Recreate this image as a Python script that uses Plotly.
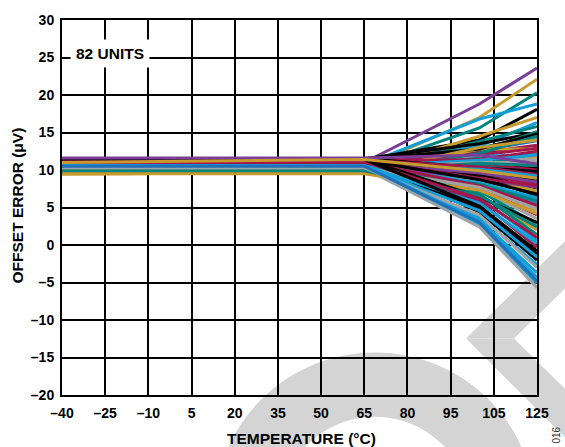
import plotly.graph_objects as go

# ---------------- data ----------------
temps = [-40, 25, 65, 105, 125]

off_m40 = [10.8, 10.0, 10.2, 10.6, 11.4, 9.6, 10.5, 9.9, 11.5, 9.8,
           10.4, 10.3, 11.3, 9.5, 11.0, 10.4, 9.6, 10.2, 10.0, 10.3,
           11.4, 11.1, 9.9, 9.5, 11.2, 11.5, 10.5, 10.7, 11.0, 11.3,
           9.6, 10.8, 11.4, 10.4, 10.3, 10.2, 10.6, 9.5, 11.1, 10.2,
           9.9, 9.6, 10.0, 10.5, 11.0, 11.4, 11.3, 10.4, 10.6, 10.5,
           10.2, 11.4, 9.8, 9.5, 11.2, 10.5, 10.3, 9.9, 11.5, 11.3,
           10.6, 11.4, 10.9, 11.2, 9.6, 11.3, 10.4, 10.0, 11.0, 10.2,
           9.5, 11.4, 9.9, 11.1, 10.5, 11.5, 10.4, 10.3, 10.6, 10.5,
           11.6, 11.0]

off_25 = [10.9, 10.1, 10.2, 10.6, 11.4, 9.7, 10.5, 9.9, 11.5, 9.8,
          10.4, 10.3, 11.3, 9.5, 11.0, 10.4, 9.7, 10.2, 10.0, 10.3,
          11.4, 11.1, 9.9, 9.5, 11.2, 11.4, 10.5, 10.7, 11.0, 11.3,
          9.6, 10.8, 11.4, 10.4, 10.3, 10.2, 10.6, 9.5, 11.1, 10.2,
          9.9, 9.6, 10.0, 10.5, 11.0, 11.4, 11.3, 10.4, 10.6, 10.5,
          10.2, 11.4, 9.8, 9.6, 11.2, 10.5, 10.3, 9.9, 11.5, 11.3,
          10.6, 11.4, 10.9, 11.2, 9.6, 11.3, 10.4, 10.0, 11.0, 10.2,
          9.5, 11.4, 9.9, 11.1, 10.5, 11.5, 10.4, 10.3, 10.6, 10.5,
          11.6, 11.2]

off_65 = [11.0, 10.3, 10.3, 10.7, 11.4, 9.9, 10.5, 10.0, 11.5, 9.9,
          10.4, 10.3, 11.3, 9.6, 11.0, 10.4, 9.8, 10.2, 10.0, 10.3,
          11.4, 11.1, 9.9, 9.6, 11.2, 11.4, 10.5, 10.7, 11.0, 11.3,
          9.7, 10.8, 11.4, 10.4, 10.3, 10.2, 10.6, 9.6, 11.1, 10.2,
          9.9, 9.6, 10.0, 10.5, 11.0, 11.3, 11.2, 10.4, 10.6, 10.5,
          10.2, 11.4, 9.8, 9.6, 11.2, 10.5, 10.3, 9.9, 11.5, 11.3,
          10.6, 11.4, 10.9, 11.2, 9.6, 11.3, 10.4, 10.0, 11.0, 10.2,
          9.5, 11.4, 9.9, 11.1, 10.5, 11.4, 10.4, 10.3, 10.6, 10.5,
          11.6, 11.4]

off_105 = [18.8, 17.0, 15.6, 16.8, 14.0, 14.5, 13.2, 13.8, 13.5, 12.5,
           13.0, 12.6, 12.3, 12.8, 12.0, 11.8, 11.5, 11.8, 11.6, 11.2,
           10.6, 10.8, 10.5, 10.2, 10.0, 9.6, 9.8, 8.6, 9.4, 9.2,
           9.0, 8.8, 9.0, 8.4, 8.0, 8.2, 7.8, 7.0, 7.6, 7.4,
           7.2, 6.6, 6.8, 6.3, 5.9, 4.8, 4.4, 3.8, 3.4, 2.8,
           2.4, 12.8, 12.2, 13.0, 11.4, 11.3, 11.0, 10.9, 10.3, 10.4,
           10.1, 9.4, 9.6, 8.9, 8.5, 8.7, 8.3, 8.1, 7.9, 7.7,
           7.3, 6.4, 6.6, 6.2, 5.6, 5.2, 4.6, 4.0, 3.2, 3.0,
           12.0, 9.9]

off_125 = [23.6, 22.1, 20.3, 18.8, 18.1, 17.0, 16.3, 15.8, 15.0, 15.1,
           14.3, 13.9, 13.3, 12.8, 12.9, 12.1, 11.7, 11.3, 10.9, 10.4,
           10.2, 10.0, 9.6, 9.3, 9.0, 8.5, 8.7, 8.0, 8.2, 7.6,
           7.2, 7.7, 6.6, 6.1, 5.6, 5.1, 5.4, 4.6, 4.0, 3.5,
           2.8, 2.0, 1.4, 0.6, -0.3, -1.2, -2.0, -2.6, -3.7, -5.1,
           -5.7, 14.8, 14.5, 14.0, 12.5, 12.0, 11.0, 10.6, 9.8, 9.4,
           9.2, 8.8, 8.4, 7.9, 7.0, 6.8, 6.3, 5.9, 5.3, 4.8,
           4.2, 3.0, 2.4, 1.0, 0.2, -0.8, -1.6, -3.0, -4.3, -4.8,
           10.8, 8.9]

x_tick_vals = [-40, -25, -10, 5, 20, 35, 50, 65, 80, 95, 110, 125]
x_tick_text = ["–40", "–25", "–10", "5", "20", "35", "50", "65", "80", "95", "105", "125"]
y_tick_vals = [-20, -15, -10, -5, 0, 5, 10, 15, 20, 25, 30]
y_tick_text = ["–20", "–15", "–10", "–5", "0", "5", "10", "15", "20", "25", "30"]

# ---------------- style ----------------
palette = {
    "P": "#7B3F98", "G": "#C99B2E", "T": "#00847E", "B": "#119FDA",
    "D": "#1F70B8", "K": "#000000", "C": "#A3174C", "Y": "#A3A3A3",
}
unit_colors = list(
    "PGTBKGBTKTBDCGCBGYTYKCTGCKBPCKGPKBDYBGCYTGTBCKKBBBY"
    "KTGCBYTKCBKPCGKBTCYGKTCBKBYBDPG"
)

FONT = "Liberation Sans, Arial, Helvetica, sans-serif"
W, H = 565, 447
L, R, T, B = 62, 28, 16, 52
pw, ph = W - L - R, H - T - B


def px(x):
    return (x - L) / pw


def py(y):
    return (H - B - y) / ph


fig = go.Figure()

n_units = len(off_125)
for i in range(n_units):
    fig.add_trace(go.Scatter(
        x=temps,
        y=[off_m40[i], off_25[i], off_65[i], off_105[i], off_125[i]],
        mode="lines",
        line=dict(color=palette[unit_colors[i]], width=3),
        showlegend=False,
        hoverinfo="skip",
    ))

# watermark (light grey decorative shapes behind the grid)
wm = "#D4D4D4"


def ring_path(cx, cy, r_out, r_in, n=60):
    import math
    pts_o = []
    pts_i = []
    for k in range(n + 1):
        a = math.pi * k / n
        pts_o.append((cx - r_out * math.cos(a), cy - r_out * math.sin(a)))
        pts_i.append((cx - r_in * math.cos(a), cy - r_in * math.sin(a)))
    pts = pts_o + pts_i[::-1]
    return "M " + " L ".join(f"{px(x):.4f},{py(y):.4f}" for x, y in pts) + " Z"


def poly_path(pts):
    return "M " + " L ".join(f"{px(x):.4f},{py(y):.4f}" for x, y in pts) + " Z"


shapes = [
    dict(type="path", xref="paper", yref="paper", layer="below",
         path=ring_path(375, 512, 160, 95), fillcolor=wm, line=dict(width=0)),
    dict(type="path", xref="paper", yref="paper", layer="below",
         path=poly_path([(466, 338), (640, 165), (640, 213), (514, 338)]),
         fillcolor=wm, line=dict(width=0)),
    dict(type="path", xref="paper", yref="paper", layer="below",
         path=poly_path([(466, 338), (514, 338), (640, 463), (640, 513)]),
         fillcolor=wm, line=dict(width=0)),
]

axis_common = dict(
    showgrid=True, gridcolor="#000000", gridwidth=1.5,
    showline=True, linecolor="#000000", linewidth=2, mirror=True,
    zeroline=False, ticks="",
    tickfont=dict(family=FONT, size=14, color="#000000", weight="bold"),
)

fig.update_layout(
    width=W, height=H,
    margin=dict(l=L, r=R, t=T, b=B, pad=0),
    paper_bgcolor="white",
    plot_bgcolor="rgba(0,0,0,0)",
    shapes=shapes,
    xaxis=dict(range=[-40, 125], tickvals=x_tick_vals, ticktext=x_tick_text,
               ticklabelstandoff=4, **axis_common),
    yaxis=dict(range=[-20, 30], tickvals=y_tick_vals, ticktext=y_tick_text,
               ticklabelstandoff=3, **axis_common),
    annotations=[
        dict(text="82 UNITS", xref="paper", yref="paper", x=px(110), y=py(50),
             xanchor="center", yanchor="middle", showarrow=False,
             bgcolor="white", borderpad=5,
             font=dict(family=FONT, size=15.5, color="#000000", weight="bold")),
        dict(text="TEMPERATURE (°C)", xref="paper", yref="paper",
             x=px(301), y=py(439), xanchor="center", yanchor="middle",
             showarrow=False,
             font=dict(family=FONT, size=15.5, color="#000000", weight="bold")),
        dict(text="OFFSET ERROR (μV)", xref="paper", yref="paper",
             x=px(17.5), y=py(204), xanchor="center", yanchor="middle",
             textangle=-90, showarrow=False,
             font=dict(family=FONT, size=15.5, color="#000000", weight="bold")),
        dict(text="016", xref="paper", yref="paper",
             x=px(557), y=py(436), xanchor="center", yanchor="middle",
             textangle=-90, showarrow=False,
             font=dict(family=FONT, size=10, color="#333333")),
    ],
)

fig.write_html("out.html", config={"displayModeBar": False},
               post_script="document.body.style.margin='0';")
